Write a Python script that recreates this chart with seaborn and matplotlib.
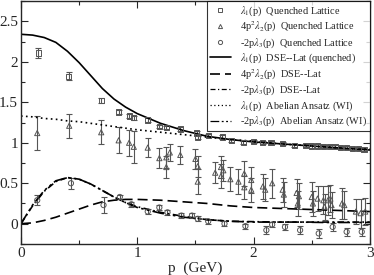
import numpy as np
import pandas as pd
import matplotlib
matplotlib.use('Agg')
import matplotlib.pyplot as plt
import seaborn as sns
from matplotlib.lines import Line2D

# lattice data: lambda_1
sq_p = [0.15, 0.41, 0.69, 0.84, 0.93, 0.97, 1.09, 1.19, 1.25, 1.37, 1.51, 1.52, 1.61, 1.73,
        1.81, 1.91, 2.0, 2.08, 2.15, 2.25, 2.35, 2.45, 2.5, 2.55, 2.6, 2.65, 2.7, 2.75, 2.8,
        2.85, 2.9, 2.95]
sq_v = [2.11, 1.82, 1.52, 1.38, 1.33, 1.31, 1.28, 1.20, 1.19, 1.17, 1.12, 1.07, 1.09, 1.07,
        1.03, 1.00, 1.02, 1.00, 1.00, 0.99, 0.97, 0.97, 0.96, 0.96, 0.95, 0.95, 0.95, 0.94,
        0.94, 0.93, 0.93, 0.92]
sq_e = [0.065, 0.05, 0.03, 0.03, 0.025, 0.025, 0.02, 0.02, 0.02, 0.02, 0.02, 0.02, 0.02,
        0.02, 0.02, 0.02, 0.02, 0.02, 0.02, 0.02, 0.02, 0.02, 0.02, 0.02, 0.02, 0.02, 0.02,
        0.02, 0.02, 0.02, 0.02, 0.02]

# lattice data: 4p^2 lambda_2
tr_p = [0.14, 0.415, 0.69, 0.84, 0.93, 0.97, 1.09, 1.19, 1.25, 1.25, 1.28, 1.37, 1.50, 1.52,
        1.52, 1.67, 1.72, 1.72, 1.74, 1.80, 1.87, 1.92, 1.92, 1.98, 1.98, 2.08, 2.10, 2.16,
        2.25, 2.26, 2.37, 2.39, 2.38, 2.50, 2.51, 2.55, 2.60, 2.61, 2.64, 2.66, 2.67, 2.76,
        2.78, 2.88, 2.92, 2.96]
tr_v = [1.12, 1.21, 1.13, 1.03, 1.00, 0.95, 0.94, 0.81, 0.82, 0.70, 0.88, 0.85, 0.80, 0.71,
        0.52, 0.63, 0.70, 0.59, 0.66, 0.55, 0.52, 0.62, 0.45, 0.54, 0.42, 0.46, 0.42, 0.50,
        0.42, 0.36, 0.38, 0.34, 0.25, 0.33, 0.25, 0.31, 0.29, 0.21, 0.29, 0.31, 0.23, 0.25,
        0.23, 0.15, 0.13, 0.15]
tr_e = [0.21, 0.15, 0.15, 0.16, 0.16, 0.20, 0.12, 0.12, 0.13, 0.14, 0.10, 0.11, 0.12, 0.13,
        0.15, 0.13, 0.14, 0.15, 0.13, 0.15, 0.15, 0.16, 0.14, 0.16, 0.15, 0.16, 0.14, 0.18,
        0.15, 0.15, 0.17, 0.16, 0.15, 0.18, 0.16, 0.15, 0.17, 0.16, 0.18, 0.17, 0.16, 0.19,
        0.17, 0.16, 0.18, 0.17]

# lattice data: -2p lambda_3
ci_p = [0.14, 0.43, 0.71, 0.85, 0.95, 1.09, 1.19, 1.26, 1.38, 1.47, 1.52, 1.61, 1.75, 1.93,
        2.11, 2.16, 2.27, 2.40, 2.56, 2.68, 2.80, 2.93]
ci_v = [0.29, 0.50, 0.23, 0.33, 0.24, 0.15, 0.20, 0.14, 0.10, 0.10, 0.06, 0.03, 0.00, -0.03,
        -0.08, -0.01, -0.04, -0.08, -0.12, -0.04, -0.10, -0.10]
ci_e = [0.06, 0.07, 0.10, 0.03, 0.03, 0.03, 0.03, 0.03, 0.03, 0.03, 0.03, 0.03, 0.03, 0.03,
        0.05, 0.03, 0.04, 0.05, 0.06, 0.05, 0.05, 0.05]

# DSE / Ansatz curves
c_p = [0.0, 0.1, 0.2, 0.3, 0.4, 0.5, 0.6, 0.7, 0.8, 0.9, 1.0, 1.2, 1.4, 1.6, 1.8, 2.0, 2.2,
       2.4, 2.6, 2.8, 3.0]
l1_dse = [2.34, 2.33, 2.30, 2.24, 2.13, 1.99, 1.83, 1.67, 1.54, 1.44, 1.36, 1.24, 1.15, 1.08,
          1.04, 1.01, 0.99, 0.97, 0.95, 0.93, 0.91]
l2_dse = [0.0, 0.01, 0.04, 0.08, 0.13, 0.18, 0.23, 0.27, 0.29, 0.30, 0.30, 0.29, 0.27, 0.25,
          0.22, 0.20, 0.19, 0.18, 0.17, 0.16, 0.15]
l3_dse = [0.0, 0.22, 0.40, 0.52, 0.57, 0.55, 0.49, 0.41, 0.33, 0.26, 0.21, 0.14, 0.09, 0.05,
          0.03, 0.025, 0.02, 0.02, 0.02, 0.02, 0.02]
l1_ab = [1.33, 1.32, 1.30, 1.29, 1.27, 1.26, 1.24, 1.22, 1.20, 1.18, 1.16, 1.13, 1.10, 1.07,
         1.04, 1.02, 0.99, 0.97, 0.95, 0.93, 0.92]
l3_ab = [0.0, 0.23, 0.41, 0.53, 0.57, 0.55, 0.49, 0.41, 0.33, 0.26, 0.20, 0.13, 0.08, 0.05,
         0.03, 0.02, 0.02, 0.02, 0.015, 0.015, 0.015]

curves = pd.DataFrame({'p': c_p, 'l1_dse': l1_dse, 'l2_dse': l2_dse, 'l3_dse': l3_dse,
                       'l1_ab': l1_ab, 'l3_ab': l3_ab})

sns.set_style('ticks')
plt.rcParams['font.family'] = ['Liberation Serif', 'DejaVu Serif']
plt.rcParams['mathtext.fontset'] = 'stix'

fig = plt.figure(figsize=(3.74, 2.75), dpi=100)
ax = fig.add_axes([0.056, 0.113, 0.933, 0.883])

gray = '#555555'
for p, v, e, m in [(sq_p, sq_v, sq_e, 's'), (tr_p, tr_v, tr_e, '^'), (ci_p, ci_v, ci_e, 'o')]:
    ax.errorbar(p, v, yerr=e, fmt='none', ecolor=gray, elinewidth=0.8, capsize=2.5,
                capthick=0.8, zorder=2)
    sns.scatterplot(x=p, y=v, marker=m, s=14, facecolor='none', edgecolor=gray,
                    linewidth=0.7, ax=ax, zorder=3)

styles = {'l1_dse': '-', 'l2_dse': (0, (6, 3)), 'l3_dse': (0, (4, 2, 1, 2)),
          'l1_ab': (0, (1, 2)), 'l3_ab': (0, (7, 2, 1.5, 2, 1.5, 2))}
for col, ls in styles.items():
    sns.lineplot(data=curves, x='p', y=col, color='black', lw=1.2, ax=ax,
                 linestyle=ls, sort=False, estimator=None)

handles = [
    Line2D([], [], ls='none', marker='s', ms=3, mfc='none', mec=gray, mew=0.7),
    Line2D([], [], ls='none', marker='^', ms=3, mfc='none', mec=gray, mew=0.7),
    Line2D([], [], ls='none', marker='o', ms=3, mfc='none', mec=gray, mew=0.7),
    Line2D([], [], color='black', lw=1.2, ls='-'),
    Line2D([], [], color='black', lw=1.2, ls=styles['l2_dse']),
    Line2D([], [], color='black', lw=0.9, ls=styles['l3_dse']),
    Line2D([], [], color='black', lw=0.9, ls=styles['l1_ab']),
    Line2D([], [], color='black', lw=0.9, ls=styles['l3_ab']),
]
labels = [r'$\lambda_1$(p)  Quenched Lattice',
          r'4p$^2\lambda_2$(p)  Quenched Lattice',
          r'-2p$\lambda_3$(p)  Quenched Lattice',
          r'$\lambda_1$(p)  DSE--Lat (quenched)',
          r'4p$^2\lambda_2$(p)  DSE--Lat',
          r'-2p$\lambda_3$(p)  DSE--Lat',
          r'$\lambda_1$(p)  Abelian Ansatz (WI)',
          r'-2p$\lambda_3$(p)  Abelian Ansatz (WI)']
leg = ax.legend(handles, labels, loc='upper right', fontsize=7.4, frameon=True,
                fancybox=False, edgecolor='black', handlelength=2.0, handletextpad=0.9,
                borderaxespad=0, labelspacing=0.2, borderpad=0.3)
leg.get_frame().set_linewidth(0.8)

ax.set_xlim(0, 3)
ax.set_ylim(-0.25, 2.75)
ax.set_xticks([0, 1, 2, 3])
ax.set_xticks([0.5, 1.5, 2.5], minor=True)
ax.set_yticks([0, 0.5, 1, 1.5, 2, 2.5])
ax.set_yticks(np.arange(-0.25, 2.76, 0.25), minor=True)
ax.set_yticklabels(['0', '0.5', '1', '1.5', '2', '2.5'])
ax.tick_params(which='both', direction='in', top=True, right=True, labelsize=11, pad=2,
               width=0.8)
ax.tick_params(which='major', length=5)
ax.tick_params(which='minor', length=3)
for s in ax.spines.values():
    s.set_linewidth(1.0)
ax.set_xlabel('p  (GeV)', fontsize=11, labelpad=1)
ax.set_ylabel('')

fig.savefig('out.png', dpi=100)
